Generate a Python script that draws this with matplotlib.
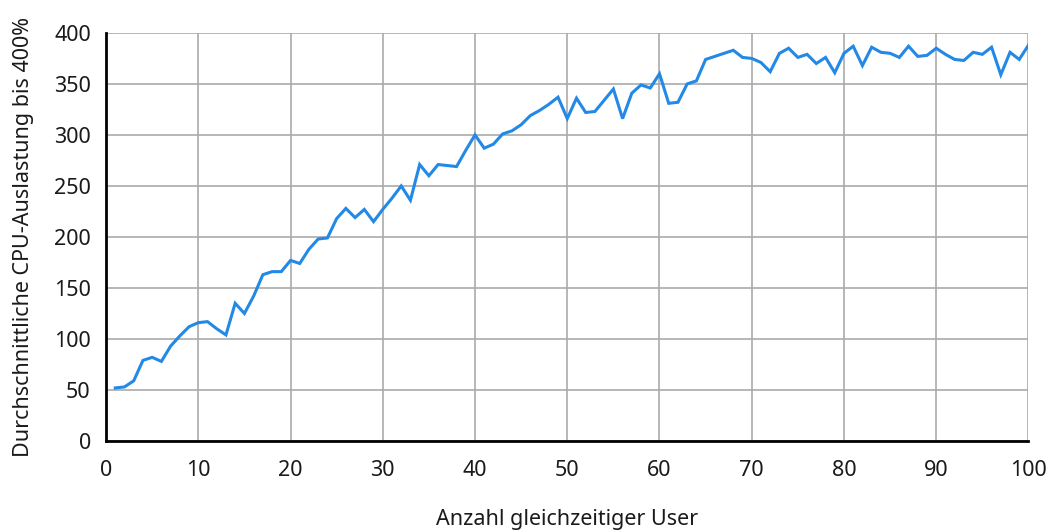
import numpy as np
import matplotlib.pyplot as plt

plt.rcParams['font.family'] = ['Noto Sans', 'DejaVu Sans']

users = list(range(1, 101))
cpu = [52, 53, 59, 79, 82, 78, 93, 103, 112, 116,
       117, 110, 104, 135, 125, 142, 163, 166, 166, 177,
       174, 188, 198, 199, 218, 228, 219, 227, 215, 227,
       238, 250, 236, 271, 260, 271, 270, 269, 285, 300,
       287, 291, 301, 304, 310, 319, 324, 330, 337, 316,
       336, 322, 323, 334, 345, 316, 341, 349, 346, 360,
       331, 332, 350, 353, 374, 377, 380, 383, 376, 375,
       371, 362, 380, 385, 376, 379, 370, 376, 361, 380,
       387, 368, 386, 381, 380, 376, 387, 377, 378, 385,
       379, 374, 373, 381, 379, 386, 359, 381, 374, 388]

fig = plt.figure(figsize=(10.53, 5.31), dpi=100)
ax = fig.add_axes([0.1007, 0.1695, 0.876, 0.7685])

ax.plot(users, cpu, color='#2389e6', linewidth=2.2, solid_joinstyle='miter')

ax.set_xlim(0, 100)
ax.set_ylim(0, 400)
ax.set_xticks(np.arange(0, 101, 10))
ax.set_yticks(np.arange(0, 401, 50))
ax.grid(True, color='#aaaaaa', linewidth=1.2)
ax.set_axisbelow(True)
ax.spines['top'].set_visible(False)
ax.spines['right'].set_visible(False)
ax.spines['left'].set_linewidth(2)
ax.spines['bottom'].set_linewidth(2)
ax.tick_params(length=0, labelsize=15.5, colors='#1a1a1a', pad=14)
ax.tick_params(axis='y', pad=11)

ax.set_xlabel('Anzahl gleichzeitiger User', fontsize=15.5, color='#1a1a1a', labelpad=20)
ax.set_ylabel('Durchschnittliche CPU-Auslastung bis 400%', fontsize=15.5, color='#1a1a1a', labelpad=14)

fig.savefig('out.png', dpi=100)
